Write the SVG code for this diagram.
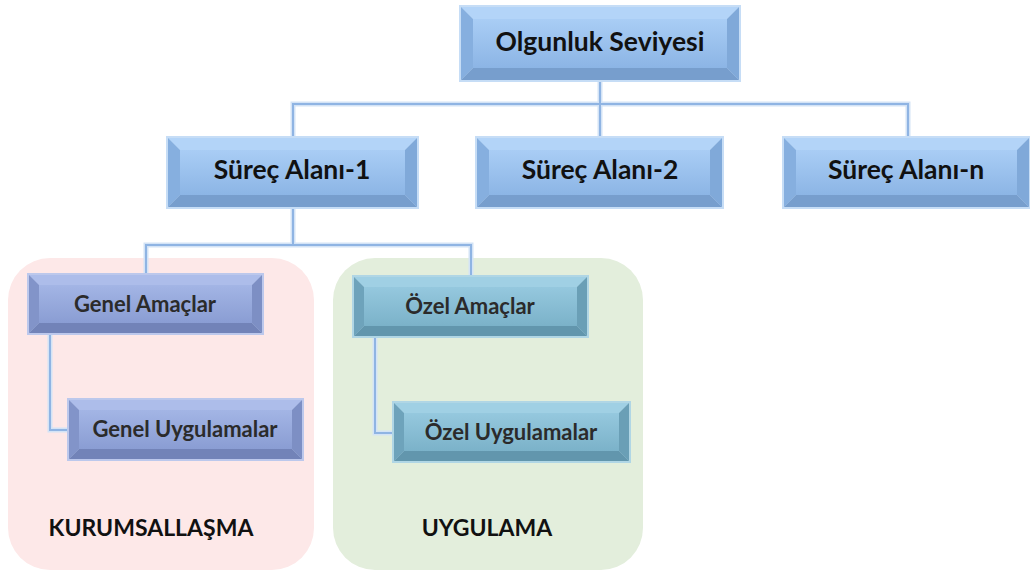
<svg xmlns="http://www.w3.org/2000/svg" width="1030" height="571" viewBox="0 0 1030 571">
<defs>
<linearGradient id="gBlue" x1="0" y1="0" x2="0" y2="1"><stop offset="0" stop-color="#a9cdf5"/><stop offset="1" stop-color="#8cb5e5"/></linearGradient>
<linearGradient id="gPur" x1="0" y1="0" x2="0" y2="1"><stop offset="0" stop-color="#a3b5e5"/><stop offset="1" stop-color="#8a9dd3"/></linearGradient>
<linearGradient id="gTeal" x1="0" y1="0" x2="0" y2="1"><stop offset="0" stop-color="#95c8de"/><stop offset="1" stop-color="#7bb2c9"/></linearGradient>
</defs>
<style>
.halo{fill:none;stroke:#d3e3f6;stroke-width:5}
.ln{fill:none;stroke:#8fb4e3;stroke-width:2}
.blue .bd{fill:#c6ddf6}.blue .t{fill:#b3d4f8}.blue .l{fill:#86afdf}.blue .r{fill:#80a9d9}.blue .b{fill:#779ecd}.blue .f{fill:url(#gBlue)}
.pur .bd{fill:#bcc8ec}.pur .t{fill:#adbdea}.pur .l{fill:#8294c9}.pur .r{fill:#7d8fc4}.pur .b{fill:#7283b8}.pur .f{fill:url(#gPur)}
.teal .bd{fill:#b0d6e5}.teal .t{fill:#a0d0e4}.teal .l{fill:#6ea3bb}.teal .r{fill:#6a9fb6}.teal .b{fill:#6296ad}.teal .f{fill:url(#gTeal)}
.big{font-family:Lato,"Liberation Sans",sans-serif;font-weight:700;font-size:26.5px;fill:#111;text-anchor:middle}
.sm{font-family:Lato,"Liberation Sans",sans-serif;font-weight:700;font-size:22px;fill:#2b2b2b;text-anchor:middle}
.lab{font-family:Lato,"Liberation Sans",sans-serif;font-weight:700;font-size:23px;fill:#111;text-anchor:middle}
</style>

<rect x="8" y="258" width="306" height="312" rx="42" fill="#fde8e8"/>
<rect x="333" y="258" width="310" height="312" rx="42" fill="#e3eedc"/>
<text class="lab" x="151" y="536">KURUMSALLAŞMA</text>
<text class="lab" x="487" y="536">UYGULAMA</text>

<g id="connectors">
<path class="halo" d="M600 80V104M293 137V104H908V137M600 104V137M293 208V245M146 278V245H471V278M50 334V430H68M375 337V433H393"/>
<path class="ln" d="M600 80V104M293 137V104H908V137M600 104V137M293 208V245M146 278V245H471V278M50 334V430H68M375 337V433H393"/>
</g>

<g id="n-olgunluk" class="blue">
<rect class="bd" x="459" y="5" width="282" height="77"/>
<polygon class="t" points="461,7 739,7 727,19 473,19"/>
<polygon class="l" points="461,7 473,19 473,68 461,80"/>
<polygon class="r" points="739,7 739,80 727,68 727,19"/>
<polygon class="b" points="461,80 473,68 727,68 739,80"/>
<rect class="f" x="473" y="19" width="254" height="49"/>
<text class="big" x="600" y="51">Olgunluk Seviyesi</text>
</g>

<g id="n-sa1" class="blue">
<rect class="bd" x="166" y="136" width="253" height="73"/>
<polygon class="t" points="168,138 417,138 405,150 180,150"/>
<polygon class="l" points="168,138 180,150 180,195 168,207"/>
<polygon class="r" points="417,138 417,207 405,195 405,150"/>
<polygon class="b" points="168,207 180,195 405,195 417,207"/>
<rect class="f" x="180" y="150" width="225" height="45"/>
<text class="big" x="292" y="179">Süreç Alanı-1</text>
</g>

<g id="n-sa2" class="blue">
<rect class="bd" x="475" y="136" width="249" height="73"/>
<polygon class="t" points="477,138 722,138 710,150 489,150"/>
<polygon class="l" points="477,138 489,150 489,195 477,207"/>
<polygon class="r" points="722,138 722,207 710,195 710,150"/>
<polygon class="b" points="477,207 489,195 710,195 722,207"/>
<rect class="f" x="489" y="150" width="221" height="45"/>
<text class="big" x="600" y="179">Süreç Alanı-2</text>
</g>

<g id="n-san" class="blue">
<rect class="bd" x="782" y="136" width="248" height="73"/>
<polygon class="t" points="784,138 1029,138 1017,150 796,150"/>
<polygon class="l" points="784,138 796,150 796,195 784,207"/>
<polygon class="r" points="1029,138 1029,207 1017,195 1017,150"/>
<polygon class="b" points="784,207 796,195 1017,195 1029,207"/>
<rect class="f" x="796" y="150" width="221" height="45"/>
<text class="big" x="906" y="179">Süreç Alanı-n</text>
</g>

<g id="n-genel-amac" class="pur">
<rect class="bd" x="27" y="273" width="237" height="62"/>
<polygon class="t" points="29,275 262,275 252,285 39,285"/>
<polygon class="l" points="29,275 39,285 39,323 29,333"/>
<polygon class="r" points="262,275 262,333 252,323 252,285"/>
<polygon class="b" points="29,333 39,323 252,323 262,333"/>
<rect class="f" x="39" y="285" width="213" height="38"/>
<text class="sm" x="145" y="312">Genel Amaçlar</text>
</g>

<g id="n-genel-uyg" class="pur">
<rect class="bd" x="67" y="398" width="237" height="63"/>
<polygon class="t" points="69,400 302,400 292,410 79,410"/>
<polygon class="l" points="69,400 79,410 79,449 69,459"/>
<polygon class="r" points="302,400 302,459 292,449 292,410"/>
<polygon class="b" points="69,459 79,449 292,449 302,459"/>
<rect class="f" x="79" y="410" width="213" height="39"/>
<text class="sm" x="185" y="437">Genel Uygulamalar</text>
</g>

<g id="n-ozel-amac" class="teal">
<rect class="bd" x="352" y="275" width="237" height="63"/>
<polygon class="t" points="354,277 587,277 577,287 364,287"/>
<polygon class="l" points="354,277 364,287 364,326 354,336"/>
<polygon class="r" points="587,277 587,336 577,326 577,287"/>
<polygon class="b" points="354,336 364,326 577,326 587,336"/>
<rect class="f" x="364" y="287" width="213" height="39"/>
<text class="sm" x="470" y="314">Özel Amaçlar</text>
</g>

<g id="n-ozel-uyg" class="teal">
<rect class="bd" x="392" y="401" width="239" height="62"/>
<polygon class="t" points="394,403 629,403 619,413 404,413"/>
<polygon class="l" points="394,403 404,413 404,451 394,461"/>
<polygon class="r" points="629,403 629,461 619,451 619,413"/>
<polygon class="b" points="394,461 404,451 619,451 629,461"/>
<rect class="f" x="404" y="413" width="215" height="38"/>
<text class="sm" x="511" y="440">Özel Uygulamalar</text>
</g>
</svg>
